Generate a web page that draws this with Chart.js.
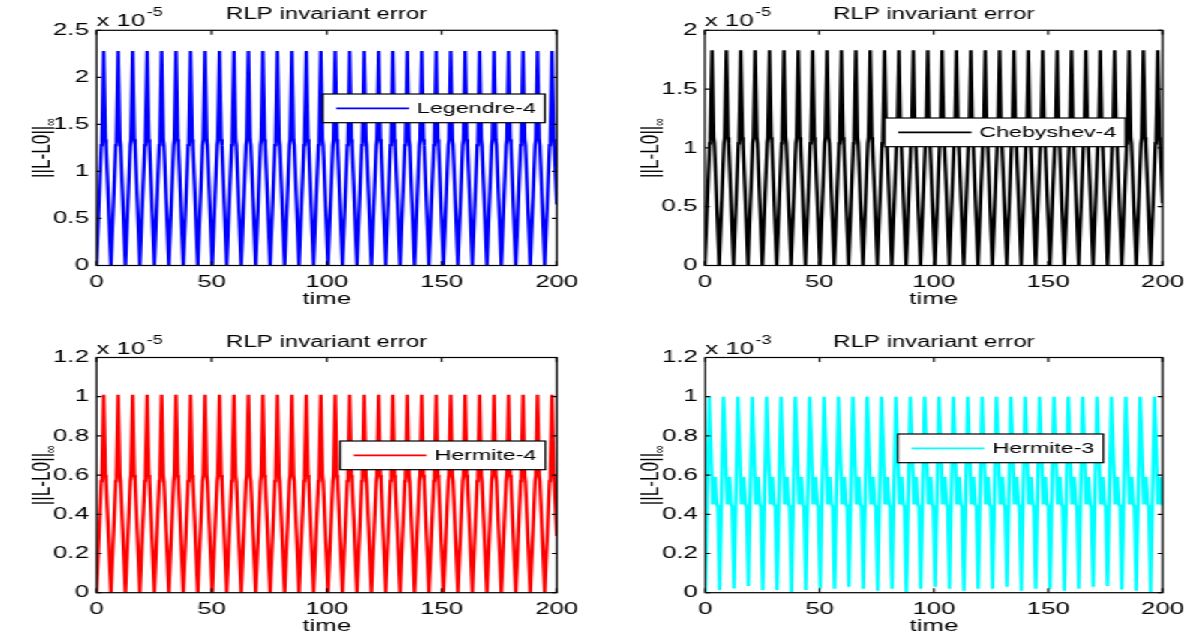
<!DOCTYPE html>
<html>
<head>
<meta charset="utf-8">
<script src="https://cdn.jsdelivr.net/npm/chart.js@4.4.1/dist/chart.umd.min.js"></script>
<style>
html,body{margin:0;padding:0;background:#fff;overflow:hidden;}
#stage{position:absolute;left:0;top:0;width:796px;height:640px;transform:scaleX(1.5);transform-origin:0 0;}
#stage canvas{position:absolute;}
</style>
</head>
<body>
<div id="stage">
<canvas id="c0" width="398" height="320" style="left:0;top:0"></canvas>
<canvas id="c1" width="398" height="320" style="left:398px;top:0"></canvas>
<canvas id="c2" width="398" height="320" style="left:0;top:320px"></canvas>
<canvas id="c3" width="398" height="320" style="left:398px;top:320px"></canvas>
</div>
<script>
// ---------- data (values in units of the axis multiplier) ----------
const time4 = [
0,2.1,2.4,3.14,3.88,4.18,
6.28,8.38,8.68,9.42,10.16,10.46,
12.57,14.67,14.97,15.71,16.45,16.75,
18.85,20.95,21.25,21.99,22.73,23.03,
25.13,27.23,27.53,28.27,29.01,29.31,
31.42,33.52,33.82,34.56,35.3,35.6,
37.7,39.8,40.1,40.84,41.58,41.88,
43.98,46.08,46.38,47.12,47.86,48.16,
50.27,52.37,52.67,53.41,54.15,54.45,
56.55,58.65,58.95,59.69,60.43,60.73,
62.83,64.93,65.23,65.97,66.71,67.01,
69.12,71.22,71.52,72.26,73,73.3,
75.4,77.5,77.8,78.54,79.28,79.58,
81.68,83.78,84.08,84.82,85.56,85.86,
87.96,90.06,90.36,91.1,91.84,92.14,
94.25,96.35,96.65,97.39,98.13,98.43,
100.53,102.63,102.93,103.67,104.41,104.71,
106.81,108.91,109.21,109.95,110.69,110.99,
113.1,115.2,115.5,116.24,116.98,117.28,
119.38,121.48,121.78,122.52,123.26,123.56,
125.66,127.76,128.06,128.8,129.54,129.84,
131.95,134.05,134.35,135.09,135.83,136.13,
138.23,140.33,140.63,141.37,142.11,142.41,
144.51,146.61,146.91,147.65,148.39,148.69,
150.8,152.9,153.2,153.94,154.68,154.98,
157.08,159.18,159.48,160.22,160.96,161.26,
163.36,165.46,165.76,166.5,167.24,167.54,
169.65,171.75,172.05,172.79,173.53,173.83,
175.93,178.03,178.33,179.07,179.81,180.11,
182.21,184.31,184.61,185.35,186.09,186.39,
188.5,190.6,190.9,191.64,192.38,192.68,
194.78,196.88,197.18,197.92,198.66,198.96,
200];

const legendre4 = [
0,1.28,1.34,2.28,1.34,1.28, 0,1.28,1.34,2.28,1.34,1.28, 0,1.28,1.34,2.28,1.34,1.28, 0,1.28,1.34,2.28,1.34,1.28,
0,1.28,1.34,2.28,1.34,1.28, 0,1.28,1.34,2.28,1.34,1.28, 0,1.28,1.34,2.28,1.34,1.28, 0,1.28,1.34,2.28,1.34,1.28,
0,1.28,1.34,2.28,1.34,1.28, 0,1.28,1.34,2.28,1.34,1.28, 0,1.28,1.34,2.28,1.34,1.28, 0,1.28,1.34,2.28,1.34,1.28,
0,1.28,1.34,2.28,1.34,1.28, 0,1.28,1.34,2.28,1.34,1.28, 0,1.28,1.34,2.28,1.34,1.28, 0,1.28,1.34,2.28,1.34,1.28,
0,1.28,1.34,2.28,1.34,1.28, 0,1.28,1.34,2.28,1.34,1.28, 0,1.28,1.34,2.28,1.34,1.28, 0,1.28,1.34,2.28,1.34,1.28,
0,1.28,1.34,2.28,1.34,1.28, 0,1.28,1.34,2.28,1.34,1.28, 0,1.28,1.34,2.28,1.34,1.28, 0,1.28,1.34,2.28,1.34,1.28,
0,1.28,1.34,2.28,1.34,1.28, 0,1.28,1.34,2.28,1.34,1.28, 0,1.28,1.34,2.28,1.34,1.28, 0,1.28,1.34,2.28,1.34,1.28,
0,1.28,1.34,2.28,1.34,1.28, 0,1.28,1.34,2.28,1.34,1.28, 0,1.28,1.34,2.28,1.34,1.28, 0,1.28,1.34,2.28,1.34,1.28,
0.65];

const chebyshev4 = [
0,1.04,1.09,1.83,1.09,1.04, 0,1.04,1.09,1.83,1.09,1.04, 0,1.04,1.09,1.83,1.09,1.04, 0,1.04,1.09,1.83,1.09,1.04,
0,1.04,1.09,1.83,1.09,1.04, 0,1.04,1.09,1.83,1.09,1.04, 0,1.04,1.09,1.83,1.09,1.04, 0,1.04,1.09,1.83,1.09,1.04,
0,1.04,1.09,1.83,1.09,1.04, 0,1.04,1.09,1.83,1.09,1.04, 0,1.04,1.09,1.83,1.09,1.04, 0,1.04,1.09,1.83,1.09,1.04,
0,1.04,1.09,1.83,1.09,1.04, 0,1.04,1.09,1.83,1.09,1.04, 0,1.04,1.09,1.83,1.09,1.04, 0,1.04,1.09,1.83,1.09,1.04,
0,1.04,1.09,1.83,1.09,1.04, 0,1.04,1.09,1.83,1.09,1.04, 0,1.04,1.09,1.83,1.09,1.04, 0,1.04,1.09,1.83,1.09,1.04,
0,1.04,1.09,1.83,1.09,1.04, 0,1.04,1.09,1.83,1.09,1.04, 0,1.04,1.09,1.83,1.09,1.04, 0,1.04,1.09,1.83,1.09,1.04,
0,1.04,1.09,1.83,1.09,1.04, 0,1.04,1.09,1.83,1.09,1.04, 0,1.04,1.09,1.83,1.09,1.04, 0,1.04,1.09,1.83,1.09,1.04,
0,1.04,1.09,1.83,1.09,1.04, 0,1.04,1.09,1.83,1.09,1.04, 0,1.04,1.09,1.83,1.09,1.04, 0,1.04,1.09,1.83,1.09,1.04,
0.53];

const hermite4 = [
0,0.57,0.6,1.01,0.6,0.57, 0,0.57,0.6,1.01,0.6,0.57, 0,0.57,0.6,1.01,0.6,0.57, 0,0.57,0.6,1.01,0.6,0.57,
0,0.57,0.6,1.01,0.6,0.57, 0,0.57,0.6,1.01,0.6,0.57, 0,0.57,0.6,1.01,0.6,0.57, 0,0.57,0.6,1.01,0.6,0.57,
0,0.57,0.6,1.01,0.6,0.57, 0,0.57,0.6,1.01,0.6,0.57, 0,0.57,0.6,1.01,0.6,0.57, 0,0.57,0.6,1.01,0.6,0.57,
0,0.57,0.6,1.01,0.6,0.57, 0,0.57,0.6,1.01,0.6,0.57, 0,0.57,0.6,1.01,0.6,0.57, 0,0.57,0.6,1.01,0.6,0.57,
0,0.57,0.6,1.01,0.6,0.57, 0,0.57,0.6,1.01,0.6,0.57, 0,0.57,0.6,1.01,0.6,0.57, 0,0.57,0.6,1.01,0.6,0.57,
0,0.57,0.6,1.01,0.6,0.57, 0,0.57,0.6,1.01,0.6,0.57, 0,0.57,0.6,1.01,0.6,0.57, 0,0.57,0.6,1.01,0.6,0.57,
0,0.57,0.6,1.01,0.6,0.57, 0,0.57,0.6,1.01,0.6,0.57, 0,0.57,0.6,1.01,0.6,0.57, 0,0.57,0.6,1.01,0.6,0.57,
0,0.57,0.6,1.01,0.6,0.57, 0,0.57,0.6,1.01,0.6,0.57, 0,0.57,0.6,1.01,0.6,0.57, 0,0.57,0.6,1.01,0.6,0.57,
0.29];

const time3 = [
0,1.7,3.3,4.3,5,5.5,
6.28,7.98,9.58,10.58,11.28,11.78,
12.57,14.27,15.87,16.87,17.57,18.07,
18.85,20.55,22.15,23.15,23.85,24.35,
25.13,26.83,28.43,29.43,30.13,30.63,
31.42,33.12,34.72,35.72,36.42,36.92,
37.7,39.4,41,42,42.7,43.2,
43.98,45.68,47.28,48.28,48.98,49.48,
50.27,51.97,53.57,54.57,55.27,55.77,
56.55,58.25,59.85,60.85,61.55,62.05,
62.83,64.53,66.13,67.13,67.83,68.33,
69.12,70.82,72.42,73.42,74.12,74.62,
75.4,77.1,78.7,79.7,80.4,80.9,
81.68,83.38,84.98,85.98,86.68,87.18,
87.96,89.66,91.26,92.26,92.96,93.46,
94.25,95.95,97.55,98.55,99.25,99.75,
100.53,102.23,103.83,104.83,105.53,106.03,
106.81,108.51,110.11,111.11,111.81,112.31,
113.1,114.8,116.4,117.4,118.1,118.6,
119.38,121.08,122.68,123.68,124.38,124.88,
125.66,127.36,128.96,129.96,130.66,131.16,
131.95,133.65,135.25,136.25,136.95,137.45,
138.23,139.93,141.53,142.53,143.23,143.73,
144.51,146.21,147.81,148.81,149.51,150.01,
150.8,152.5,154.1,155.1,155.8,156.3,
157.08,158.78,160.38,161.38,162.08,162.58,
163.36,165.06,166.66,167.66,168.36,168.86,
169.65,171.35,172.95,173.95,174.65,175.15,
175.93,177.63,179.23,180.23,180.93,181.43,
182.21,183.91,185.51,186.51,187.21,187.71,
188.5,190.2,191.8,192.8,193.5,194,
194.78,196.48,198.08,199.08,199.78,
200];

const hermite3 = [
0,1,0.45,0.59,0.45,0.44,
0.014,1,0.45,0.59,0.45,0.44,
0.022,1,0.45,0.59,0.45,0.44,
0.034,1,0.45,0.59,0.45,0.44,
0.014,1,0.45,0.59,0.45,0.44,
0.014,1,0.45,0.59,0.45,0.44,
0.002,1,0.45,0.59,0.45,0.44,
0.014,1,0.45,0.59,0.45,0.44,
0.022,1,0.45,0.59,0.45,0.44,
0.02,1,0.45,0.59,0.45,0.44,
0.03,1,0.45,0.59,0.45,0.44,
0.02,1,0.45,0.59,0.45,0.44,
0.01,1,0.45,0.59,0.45,0.44,
0.02,1,0.45,0.59,0.45,0.44,
0,1,0.45,0.59,0.45,0.44,
0.02,1,0.45,0.59,0.45,0.44,
0.03,1,0.45,0.59,0.45,0.44,
0.02,1,0.45,0.59,0.45,0.44,
0.01,1,0.45,0.59,0.45,0.44,
0.02,1,0.45,0.59,0.45,0.44,
0.02,1,0.45,0.59,0.45,0.44,
0.03,1,0.45,0.59,0.45,0.44,
0.01,1,0.45,0.59,0.45,0.44,
0.02,1,0.45,0.59,0.45,0.44,
0.02,1,0.45,0.59,0.45,0.44,
0.01,1,0.45,0.59,0.45,0.44,
0.02,1,0.45,0.59,0.45,0.44,
0.03,1,0.45,0.59,0.45,0.44,
0.034,1,0.45,0.59,0.45,0.44,
0.017,1,0.45,0.59,0.45,0.44,
0.01,1,0.45,0.59,0.45,0.44,
0,1,0.45,0.59,0.45,
0.447];

const seriesNames = ['Legendre-4','Chebyshev-4','Hermite-4','Hermite-3'];
const seriesColors = ['#0000ff','#000000','#ff0000','#00ffff'];
const chartTitle = 'RLP invariant error';
const xTitle = 'time';
const yTitleMain = '||L-L0||';
const yTitleSub = '\u221e';
const xTicks = [0,50,100,150,200];
const xTickLabels = ['0','50','100','150','200'];
const yTicksA = [0,0.5,1,1.5,2,2.5];
const yTickLabelsA = ['0','0.5','1','1.5','2','2.5'];
const yTicksB = [0,0.5,1,1.5,2];
const yTickLabelsB = ['0','0.5','1','1.5','2'];
const yTicksC = [0,0.2,0.4,0.6,0.8,1,1.2];
const yTickLabelsC = ['0','0.2','0.4','0.6','0.8','1','1.2'];
const exponents = ['-5','-5','-5','-3'];

// ---------- rendering ----------
const FF = '"Liberation Sans", Arial, Helvetica, sans-serif';
const FT = 17.2;   // tick / axis text
const FH = 16;     // title
const FL = 15.5;   // legend

const deco = {
  id: 'deco',
  afterDraw(chart, args, o) {
    const {ctx, chartArea: a} = chart;
    const xs = chart.scales.x, ys = chart.scales.y;
    ctx.save();
    // box
    ctx.strokeStyle = '#000';
    ctx.lineWidth = 1.2;
    ctx.strokeRect(a.left, a.top, a.right - a.left, a.bottom - a.top);
    // inward ticks on all sides
    ctx.beginPath();
    xs.ticks.forEach(t => {
      const px = xs.getPixelForValue(t.value);
      ctx.moveTo(px, a.bottom); ctx.lineTo(px, a.bottom - 4.5);
      ctx.moveTo(px, a.top); ctx.lineTo(px, a.top + 4.5);
    });
    ys.ticks.forEach(t => {
      const py = ys.getPixelForValue(t.value);
      ctx.moveTo(a.left, py); ctx.lineTo(a.left + 3.3, py);
      ctx.moveTo(a.right, py); ctx.lineTo(a.right - 3.3, py);
    });
    ctx.stroke();
    ctx.fillStyle = '#000';
    // title
    ctx.font = FH + 'px ' + FF;
    ctx.textAlign = 'center';
    ctx.textBaseline = 'alphabetic';
    ctx.fillText(o.title, (a.left + a.right) / 2, a.top - 11);
    // exponent label
    ctx.font = FT + 'px ' + FF;
    ctx.textAlign = 'left';
    ctx.fillText('x 10', a.left, a.top - 4);
    const w = ctx.measureText('x 10').width;
    ctx.font = '12px ' + FF;
    ctx.fillText(o.exp, a.left + w + 1, a.top - 14);
    // y label with subscript
    ctx.save();
    ctx.translate(o.ylabX, (a.top + a.bottom) / 2);
    ctx.rotate(-Math.PI / 2);
    ctx.font = FT + 'px ' + FF;
    const mw = ctx.measureText(yTitleMain).width;
    ctx.font = '11px ' + FF;
    const sw = ctx.measureText(yTitleSub).width;
    const tot = mw + sw;
    ctx.font = FT + 'px ' + FF;
    ctx.textAlign = 'left';
    ctx.textBaseline = 'alphabetic';
    ctx.fillText(yTitleMain, -tot / 2, 6);
    ctx.font = '11px ' + FF;
    ctx.fillText(yTitleSub, -tot / 2 + mw, 10);
    ctx.restore();
    // legend box
    ctx.font = FL + 'px ' + FF;
    const tw = ctx.measureText(o.label).width;
    const L = o.legX, T = o.legY, H = 28.7;
    const W = 9 + 48.7 + 5.3 + tw + 6;
    ctx.fillStyle = '#fff';
    ctx.fillRect(L, T, W, H);
    ctx.strokeStyle = '#000';
    ctx.lineWidth = 1.2;
    ctx.strokeRect(L, T, W, H);
    ctx.strokeStyle = o.color;
    ctx.lineWidth = 1.8;
    ctx.beginPath();
    ctx.moveTo(L + 9, T + H / 2);
    ctx.lineTo(L + 57.7, T + H / 2);
    ctx.stroke();
    ctx.fillStyle = '#000';
    ctx.textAlign = 'left';
    ctx.textBaseline = 'middle';
    ctx.fillText(o.label, L + 63, T + H / 2 + 0.5);
    ctx.restore();
  }
};

function makeChart(id, p) {
  const font = {family: FF, size: FT};
  return new Chart(document.getElementById(id), {
    type: 'line',
    data: {
      datasets: [{
        label: p.label,
        data: p.t.map((t, i) => ({x: t, y: p.v[i]})),
        borderColor: p.color,
        backgroundColor: p.color,
        borderWidth: 2.4,
        pointRadius: 0,
        tension: 0,
        fill: false
      }]
    },
    options: {
      responsive: false,
      animation: false,
      events: [],
      layout: {padding: {left: 0, top: p.top, right: p.right, bottom: p.bottom}},
      plugins: {
        legend: {display: false},
        tooltip: {enabled: false},
        title: {display: false},
        deco: {title: chartTitle, exp: p.exp, label: p.label, color: p.color,
               legX: p.legX, legY: p.legY, ylabX: p.ylabX}
      },
      scales: {
        x: {
          type: 'linear', min: 0, max: 200,
          grid: {display: false, drawTicks: false},
          border: {display: false},
          afterBuildTicks: s => { s.ticks = xTicks.map(v => ({value: v})); },
          ticks: {padding: 6.5, color: '#000', font: font, maxRotation: 0, autoSkip: false,
                  callback: (v, i) => xTickLabels[i]},
          title: {display: true, text: xTitle, color: '#000', font: font, padding: {top: 0, bottom: 0}},
          afterFit: s => { s.height = 44; }
        },
        y: {
          type: 'linear', min: 0, max: p.ymax,
          grid: {display: false, drawTicks: false},
          border: {display: false},
          afterBuildTicks: s => { s.ticks = p.yt.map(v => ({value: v})); },
          ticks: {padding: 5, color: '#000', font: font, autoSkip: false,
                  callback: (v, i) => p.ytl[i]},
          afterFit: s => { s.width = p.left; }
        }
      }
    },
    plugins: [deco]
  });
}

makeChart('c0', {t: time4, v: legendre4, label: seriesNames[0], color: seriesColors[0], exp: exponents[0],
  ymax: 2.5, yt: yTicksA, ytl: yTickLabelsA, left: 64.2, right: 26.7, top: 30.3, bottom: 10.5,
  legX: 215.1, legY: 94, ylabX: 27});
makeChart('c1', {t: time4, v: chebyshev4, label: seriesNames[1], color: seriesColors[1], exp: exponents[1],
  ymax: 2, yt: yTicksB, ytl: yTickLabelsB, left: 72, right: 18.7, top: 30.3, bottom: 10.5,
  legX: 192, legY: 118, ylabX: 35});
makeChart('c2', {t: time4, v: hermite4, label: seriesNames[2], color: seriesColors[2], exp: exponents[2],
  ymax: 1.2, yt: yTicksC, ytl: yTickLabelsC, left: 64.2, right: 26.7, top: 37.5, bottom: 3.3,
  legX: 226.7, legY: 121, ylabX: 27});
makeChart('c3', {t: time3, v: hermite3, label: seriesNames[3], color: seriesColors[3], exp: exponents[3],
  ymax: 1.2, yt: yTicksC, ytl: yTickLabelsC, left: 72.3, right: 18.7, top: 37.5, bottom: 3.3,
  legX: 200.7, legY: 114, ylabX: 35});
</script>
</body>
</html>
